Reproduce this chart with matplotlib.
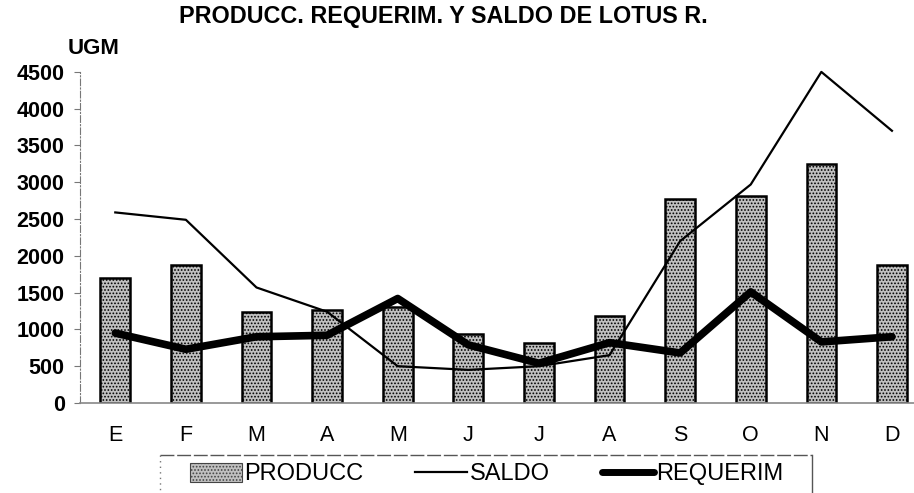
import matplotlib.pyplot as plt
from matplotlib.lines import Line2D
from matplotlib.patches import Patch

plt.rcParams['font.family'] = ['Liberation Sans', 'DejaVu Sans']
plt.rcParams['hatch.color'] = '#444444'
plt.rcParams['hatch.linewidth'] = 0.8

meses = ['E', 'F', 'M', 'A', 'M', 'J', 'J', 'A', 'S', 'O', 'N', 'D']
producc = [1700, 1880, 1230, 1270, 1310, 940, 820, 1180, 2770, 2820, 3250, 1880]
saldo = [2590, 2490, 1570, 1240, 500, 450, 500, 650, 2200, 2970, 4500, 3700]
requerim = [950, 730, 900, 920, 1420, 790, 540, 820, 680, 1510, 830, 900]
yticks = [0, 500, 1000, 1500, 2000, 2500, 3000, 3500, 4000, 4500]

W, H = 914, 493
fig = plt.figure(figsize=(W / 100, H / 100), dpi=100)
ax = fig.add_axes([0.0875, 0.1826, 0.927, 0.679])
x = range(len(meses))

# barras punteadas de produccion
ax.bar(x, producc, width=0.42, color='#c0c0c0', edgecolor='black',
       linewidth=1.8, hatch='.....', zorder=2)
ax.plot(x, saldo, color='black', linewidth=1.6, zorder=3)
ax.plot(x, requerim, color='black', linewidth=5.5, solid_capstyle='round',
        solid_joinstyle='round', zorder=4)

ax.set_xlim(-0.5, 11.5)
ax.set_ylim(0, 4550)
ax.set_yticks(yticks)
ax.set_xticks(list(x))
ax.set_xticklabels(meses)
ax.tick_params(axis='y', labelsize=15.5, length=4, width=0.8, color='#777777', pad=7)
ax.tick_params(axis='x', labelsize=15.5, length=0, pad=16)
for lab in ax.get_yticklabels():
    lab.set_fontweight('bold')
for s in ['top', 'right']:
    ax.spines[s].set_visible(False)
ax.spines['left'].set_color('#777777')
ax.spines['left'].set_linestyle((0, (6, 2, 1, 2)))
ax.spines['left'].set_bounds(0, 4500)
ax.spines['bottom'].set_color('#888888')
ax.spines['bottom'].set_linewidth(1.2)

fig.text(443 / W, 1 - 17 / H, 'PRODUCC. REQUERIM. Y SALDO DE LOTUS R.', ha='center',
         va='center', fontsize=16.8, fontweight='bold')
fig.text(68 / W, 1 - 49 / H, 'UGM', ha='left', va='center', fontsize=16, fontweight='bold')

# marco de la leyenda (abierto por abajo)
fx = lambda p: p / W
fy = lambda p: 1 - p / H
fig.add_artist(Line2D([fx(160), fx(812)], [fy(455), fy(455)], color='#555555', lw=1.0,
                      linestyle=(0, (10, 2))))
fig.add_artist(Line2D([fx(812), fx(812)], [fy(455), fy(495)], color='#555555', lw=1.0))
fig.add_artist(Line2D([fx(160), fx(160)], [fy(455), fy(495)], color='#777777', lw=1.0,
                      linestyle=(0, (1, 3))))

handles = [
    Patch(facecolor='#c0c0c0', edgecolor='#444444', hatch='.....', linewidth=0.8),
    Line2D([], [], color='black', linewidth=1.6),
    Line2D([], [], color='black', linewidth=5, solid_capstyle='round'),
]
leg = fig.legend(handles, ['PRODUCC', 'SALDO', 'REQUERIM'], ncol=3,
                 loc='center left', bbox_to_anchor=(fx(190), fy(474)), fontsize=17,
                 frameon=False, handlelength=2.2, handleheight=0.9, handletextpad=0.1,
                 columnspacing=2.2, borderpad=0, borderaxespad=0)

fig.savefig('out.png', dpi=100)
